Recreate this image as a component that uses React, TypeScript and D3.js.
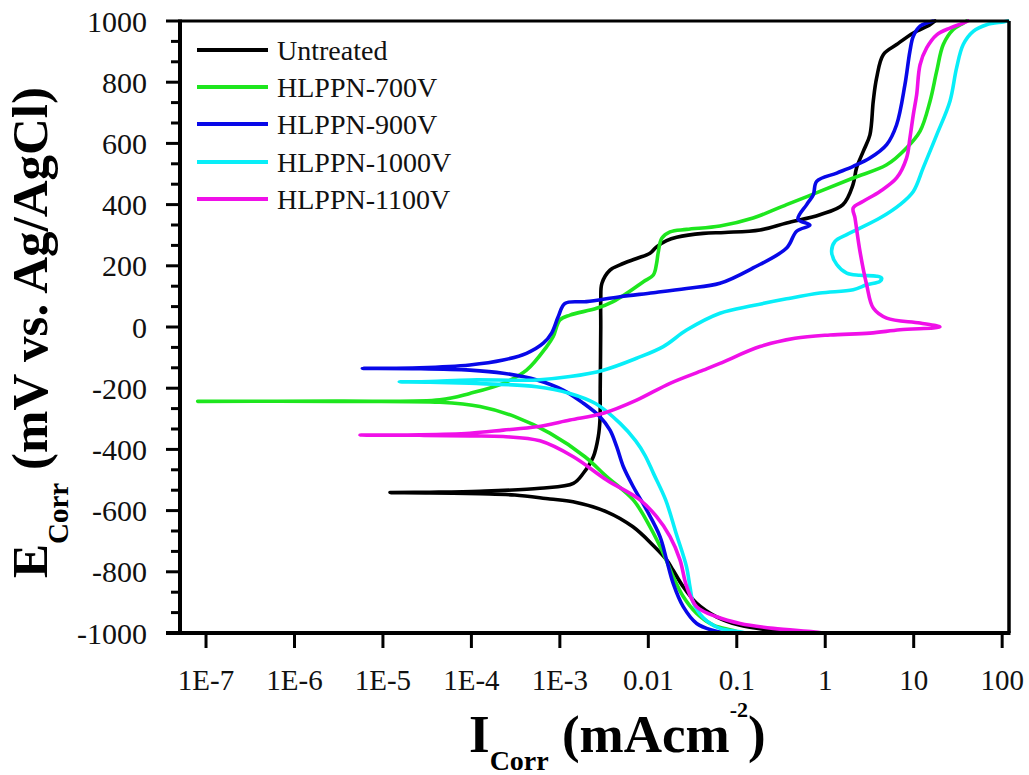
import React from 'react';
import * as d3 from 'd3';

const W = 1029;
const H = 775;

const seriesNames = ['Untreated', 'HLPPN-700V', 'HLPPN-900V', 'HLPPN-1000V', 'HLPPN-1100V'];
const seriesColors = ['#000000', '#1ee61e', '#0808e8', '#08eef8', '#f010e8'];

// [I (mA/cm2), E (mV)] in scan order
const untreated: [number, number][] = [
  [0.5, -1000], [0.43, -997], [0.26, -992], [0.109, -975], [0.059, -947], [0.035, -902],
  [0.0247, -848], [0.019, -794], [0.0161, -761], [0.0113, -713], [0.0067, -653], [0.00338, -604],
  [0.00141, -571], [7.7e-4, -562], [3.1e-4, -549], [1.25e-4, -545], [3.4e-5, -542], [1.2e-5, -541],
  [3.4e-5, -540], [1.25e-4, -537], [5.96e-4, -527], [1.42e-3, -511], [1.84e-3, -478], [2.39e-3, -424],
  [2.72e-3, -358], [2.84e-3, -304], [2.86e-3, -200], [2.9e-3, 0], [2.9e-3, 88], [2.99e-3, 143],
  [3.69e-3, 186], [4.79e-3, 203], [7.38e-3, 224], [0.01045, 241], [0.0124, 262], [0.0161, 282],
  [0.0209, 293], [0.0418, 306], [0.0734, 309], [0.183, 317], [0.366, 340], [0.871, 367],
  [1.585, 400], [2.06, 465], [2.26, 520], [2.69, 574], [3.2, 628], [3.49, 738], [3.81, 814],
  [4.53, 890], [6.41, 923], [9.9, 961], [15.3, 988], [17.4, 1000],
];

const hlppn700: [number, number][] = [
  [0.109, -1000], [0.0912, -992], [0.0542, -974], [0.0352, -936], [0.0248, -881], [0.0191, -816],
  [0.0148, -740], [0.01045, -653], [0.00676, -565], [0.00338, -489], [0.00192, -424], [7.7e-4, -347],
  [3.1e-4, -293], [1.25e-4, -260], [4.4e-5, -246], [3e-6, -243], [8.05e-8, -243], [3e-6, -242],
  [4.4e-5, -238], [9.6e-5, -217], [2.29e-4, -184], [4.2e-4, -141], [7.1e-4, -64], [8.4e-4, -32],
  [1.0e-3, 23], [1.3e-3, 39], [2.6e-3, 61], [4.0e-3, 83], [5.7e-3, 110], [8.8e-3, 148],
  [0.0114, 170], [0.0124, 208], [0.0129, 241], [0.0142, 290], [0.0176, 311], [0.0271, 319],
  [0.0646, 330], [0.153, 356], [0.366, 400], [0.871, 443], [2.07, 487], [4.95, 530], [8.3, 585],
  [11.8, 640], [15.3, 738], [18.2, 836], [21.6, 923], [28.0, 972], [36.3, 993], [39.6, 1000],
];

const hlppn900: [number, number][] = [
  [0.0734, -1000], [0.0542, -992], [0.0352, -969], [0.0248, -914], [0.0191, -838], [0.0161, -761],
  [0.01355, -685], [0.00957, -598], [0.00676, -522], [0.00521, -456], [0.00439, -391], [0.00369, -337],
  [0.00284, -293], [0.00184, -249], [0.00109, -206], [5.5e-4, -173], [2.29e-4, -151], [9.6e-5, -141],
  [2.6e-5, -136], [5.85e-6, -135], [2.6e-5, -133], [9.6e-5, -124], [2.29e-4, -108], [4.2e-4, -86],
  [6.5e-4, -53], [8.07e-4, -20], [9.6e-4, 34], [1.14e-3, 77], [2.0e-3, 83], [4.79e-3, 99],
  [0.0114, 112], [0.0271, 126], [0.0646, 143], [0.153, 193], [0.366, 258], [0.475, 313],
  [0.671, 333], [0.492, 352], [0.617, 400], [0.733, 432], [0.8, 476], [1.35, 503], [2.07, 525],
  [3.2, 552], [4.95, 596], [6.41, 661], [7.96, 792], [9.06, 901], [9.9, 950], [11.8, 983], [16.6, 1000],
];

const hlppn1000: [number, number][] = [
  [0.124, -1000], [0.109, -996], [0.0646, -985], [0.0418, -950], [0.0322, -900], [0.0296, -850],
  [0.027, -783], [0.0206, -674], [0.0157, -565], [0.0115, -480], [0.0092, -420], [0.0072, -372],
  [0.0048, -315], [0.00253, -250], [0.0013, -217], [5.47e-4, -195], [9.6e-5, -184], [3.4e-5, -180],
  [1.53e-5, -179], [3.4e-5, -178], [9.6e-5, -173], [5.47e-4, -173], [1.3e-3, -162], [3.1e-3, -141],
  [7.38e-3, -102], [0.01476, -64], [0.0271, -10], [0.0646, 45], [0.153, 70], [0.366, 92],
  [0.871, 111], [2.07, 122], [2.94, 138], [4.15, 149], [4.34, 160], [3.81, 166], [2.47, 169],
  [1.75, 176], [1.35, 204], [1.18, 247], [1.29, 280], [1.75, 302], [2.47, 323], [4.15, 356],
  [7.0, 400], [9.9, 443], [12.8, 520], [18.2, 628], [25.7, 738], [30.5, 846], [36.3, 923],
  [47.1, 966], [66.7, 988], [102.8, 997], [116, 1000],
];

const hlppn1100: [number, number][] = [
  [0.94, -1000], [0.733, -996], [0.258, -985], [0.109, -969], [0.0593, -947], [0.0352, -914],
  [0.0271, -848], [0.0228, -761], [0.0176, -685], [0.0124, -620], [0.00805, -565],
  [0.00338, -500], [1.42e-3, -424], [5.96e-4, -372], [2.29e-4, -358], [9.6e-5, -356],
  [2.6e-5, -354], [5.5e-6, -353], [2.6e-5, -352], [9.6e-5, -347], [2.29e-4, -337], [5.47e-4, -326],
  [1.3e-3, -304], [3.1e-3, -282], [7.38e-3, -239], [0.0176, -184], [0.0418, -141], [0.0646, -119],
  [0.183, -64], [0.455, -37], [1.13, -26], [3.2, -20], [7.0, -9], [19.8, 0], [11.8, 13],
  [4.95, 29], [3.49, 62], [2.94, 138], [2.47, 247], [2.17, 356], [2.07, 389], [2.69, 411],
  [4.15, 443], [6.41, 487], [8.3, 552], [9.06, 617], [9.9, 694], [10.8, 759], [11.8, 857],
  [14.0, 912], [18.2, 955], [25.7, 977], [36.3, 993], [41, 1000],
];

const seriesData = [untreated, hlppn700, hlppn900, hlppn1000, hlppn1100];

const xTickValues = [1e-7, 1e-6, 1e-5, 1e-4, 1e-3, 0.01, 0.1, 1, 10, 100];
const xTickLabels = ['1E-7', '1E-6', '1E-5', '1E-4', '1E-3', '0.01', '0.1', '1', '10', '100'];
const yMajorTicks = [-1000, -800, -600, -400, -200, 0, 200, 400, 600, 800, 1000];

const FONT = '"Liberation Serif", "Times New Roman", Times, serif';

export default function App() {
  const left = 180, right = 1009, top = 21, bottom = 633;
  const x = d3.scaleLog().domain([5.08e-8, 119.5]).range([left, right]);
  const y = d3.scaleLinear().domain([-1000, 1000]).range([bottom, top]);
  const line = d3
    .line<[number, number]>()
    .x((d) => x(d[0]))
    .y((d) => y(d[1]))
    .curve(d3.curveCatmullRom.alpha(0.5));

  const minorTicks: number[] = [];
  for (let i = 0; i <= 30; i++) {
    if (i % 3 !== 0) minorTicks.push(-1000 + (i * 200) / 3);
  }

  const legendY = [50, 87, 124, 162, 199];

  return (
    <svg
      width={W}
      height={H}
      viewBox={`0 0 ${W} ${H}`}
      style={{ position: 'absolute', left: 0, top: 0, background: '#fff' }}
      fontFamily={FONT}
    >
      <rect x={0} y={0} width={W} height={H} fill="#fff" />
      <g fill="none" strokeLinejoin="round" strokeLinecap="round">
        {seriesData.map((d, i) => (
          <path key={i} d={line(d) || ''} stroke={seriesColors[i]} strokeWidth={3.6} />
        ))}
      </g>
      <line x1={left} x2={right} y1={top} y2={top} stroke="#000" strokeWidth={3} />
      <line x1={right} x2={right} y1={top} y2={bottom} stroke="#000" strokeWidth={3.5} />
      <line x1={left} x2={left} y1={top - 1.5} y2={bottom + 2} stroke="#000" strokeWidth={4} />
      <line x1={left - 14} x2={right + 1.5} y1={bottom} y2={bottom} stroke="#000" strokeWidth={4} />
      {yMajorTicks.map((v) => (
        <g key={'ym' + v}>
          <line x1={left - 14} x2={left} y1={y(v)} y2={y(v)} stroke="#000" strokeWidth={3} />
          <text x={147} y={y(v)} dy="0.35em" textAnchor="end" fontSize={30} fill="#111">
            {v}
          </text>
        </g>
      ))}
      {minorTicks.map((v) => (
        <line key={'yn' + v} x1={left - 9} x2={left} y1={y(v)} y2={y(v)} stroke="#000" strokeWidth={3} />
      ))}
      {xTickValues.map((v, i) => (
        <g key={'x' + i}>
          <line x1={x(v)} x2={x(v)} y1={bottom} y2={bottom + 15} stroke="#000" strokeWidth={3} />
          <text x={x(v)} y={690} textAnchor="middle" fontSize={29} fill="#111">
            {xTickLabels[i]}
          </text>
        </g>
      ))}
      {seriesNames.map((n, i) => (
        <g key={'lg' + i}>
          <line x1={197} x2={268} y1={legendY[i]} y2={legendY[i]} stroke={seriesColors[i]} strokeWidth={4} />
          <text x={277} y={legendY[i] + 9.5} fontSize={28} fill="#111">
            {n}
          </text>
        </g>
      ))}
      <text x={469} y={752} fontWeight="bold" fill="#000">
        <tspan fontSize={53}>I</tspan>
        <tspan fontSize={28} dy={18}>Corr</tspan>
        <tspan fontSize={53} dy={-18}>{' (mAcm'}</tspan>
        <tspan fontSize={22} dy={-35}>-2</tspan>
        <tspan fontSize={53} dy={35}>)</tspan>
      </text>
      <text transform="translate(47,578) rotate(-90)" fontWeight="bold" fill="#000">
        <tspan fontSize={51}>E</tspan>
        <tspan fontSize={29} dy={21}>Corr</tspan>
        <tspan fontSize={51} dy={-21}>{' (mV vs. Ag/AgCl)'}</tspan>
      </text>
    </svg>
  );
}
